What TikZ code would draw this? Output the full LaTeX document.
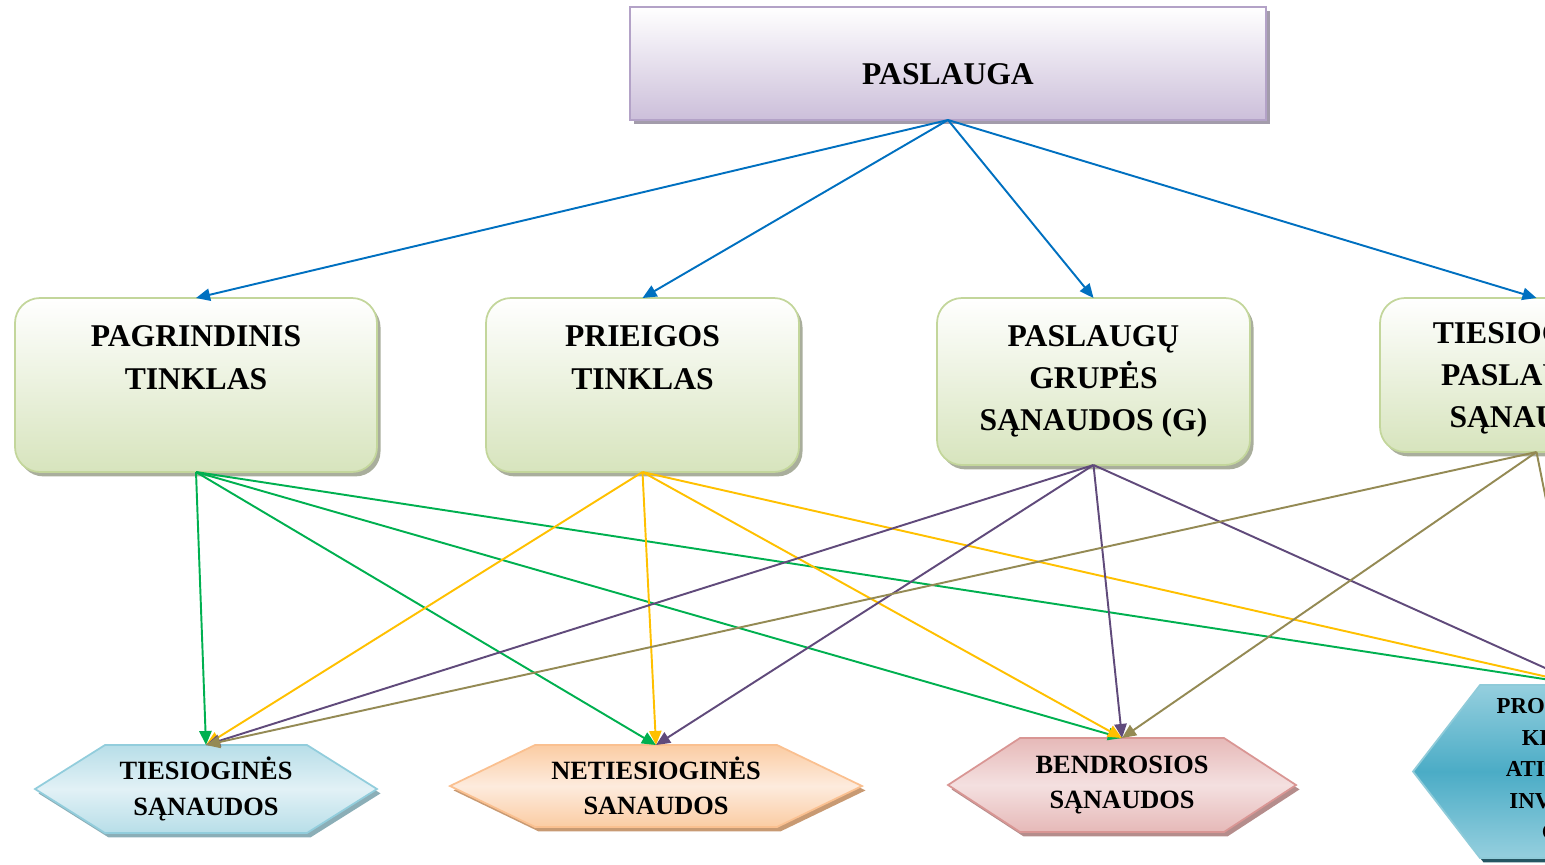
\documentclass[tikz,border=0pt]{standalone}
\usepackage{fontspec}
\setmainfont{Liberation Serif}
\usetikzlibrary{arrows.meta,shadows,backgrounds}

\definecolor{pasline}{HTML}{B3A2C7}
\definecolor{pasfill}{HTML}{CCBFDA}
\definecolor{passhadow}{HTML}{A39CAB}
\definecolor{grnline}{HTML}{C3D69B}
\definecolor{grnfill}{HTML}{D7E4BD}
\definecolor{grnshadow}{HTML}{A9AE9C}
\definecolor{tieline}{HTML}{92CDDC}
\definecolor{tiefill}{HTML}{B7DEE8}
\definecolor{tielight}{HTML}{E2F1F6}
\definecolor{netline}{HTML}{FAC090}
\definecolor{netfill}{HTML}{FBCCA3}
\definecolor{netlight}{HTML}{FDEBDD}
\definecolor{benline}{HTML}{D99694}
\definecolor{benfill}{HTML}{E6B9B8}
\definecolor{benlight}{HTML}{F4E0E0}
\definecolor{prkline}{HTML}{8FCBD9}
\definecolor{prkfill}{HTML}{95CFDE}
\definecolor{prkdark}{HTML}{4BACC6}
\definecolor{melyna}{HTML}{0070C0}
\definecolor{zalia}{HTML}{00B050}
\definecolor{geltona}{HTML}{FFC000}
\definecolor{violetine}{HTML}{604A7B}
\definecolor{alyvine}{HTML}{948A54}

% šešiakampio kontūras pagal mazgo kraštus
\newcommand\hexpath[2]{(#1.west) -- ([xshift=#2]#1.north west) -- ([xshift=-#2]#1.north east) -- (#1.east) -- ([xshift=-#2]#1.south east) -- ([xshift=#2]#1.south west) -- cycle}

\tikzset{
  boxfont/.style={font=\fontsize{18}{24}\selectfont\bfseries},
  topbox/.style={draw=pasline, line width=1pt, top color=white, bottom color=pasfill,
    drop shadow={shadow xshift=2.5pt, shadow yshift=-2.5pt, fill=passhadow, opacity=1},
    boxfont, inner sep=0pt, outer sep=0pt},
  tinklas/.style={draw=grnline, line width=1pt, rounded corners=0.5cm, top color=white, bottom color=grnfill,
    drop shadow={shadow xshift=2pt, shadow yshift=-2.5pt, fill=grnshadow, opacity=1},
    boxfont, align=center, inner sep=0pt, outer sep=0pt},
  hexlbl/.style={font=\fontsize{15}{20}\selectfont\bfseries, align=center, inner sep=0pt, outer sep=0pt},
  hexfill/.style n args={4}{draw=#1, line width=1pt, top color=#2, bottom color=#2, middle color=#3,
    drop shadow={shadow xshift=2pt, shadow yshift=-2.5pt, fill=#4, opacity=1}},
  rodykle/.style={draw=#1, line width=1.1pt, -{Triangle[length=8pt,width=7pt]}},
}

\begin{document}
\begin{tikzpicture}
  \useasboundingbox (0,0) rectangle (30.9,-17.28);
  \clip (0,0) rectangle (30.9,-17.28);

  % viršutinis blokas
  \node[topbox, minimum width=12.72cm, minimum height=2.26cm, text height=0.84cm, text depth=0pt]
    (pas) at (18.96,-1.27) {PASLAUGA};

  % antras lygis
  \node[tinklas, minimum width=7.24cm, minimum height=3.48cm] (pag) at (3.92,-7.7) {PAGRINDINIS\\TINKLAS\\\strut};
  \node[tinklas, minimum width=6.26cm, minimum height=3.48cm] (pri) at (12.85,-7.7) {PRIEIGOS\\TINKLAS\\\strut};
  \node[tinklas, minimum width=6.26cm, minimum height=3.34cm] (grp) at (21.87,-7.63) {PASLAUGŲ\\GRUPĖS\\SĄNAUDOS (G)};
  \node[tinklas, minimum width=6.26cm, minimum height=3.08cm] (tsp) at (30.73,-7.5) {TIESIOGINĖS\\PASLAUGOS\\SĄNAUDOS};

  % sąnaudų šešiakampiai
  \node[hexlbl, minimum width=6.84cm, minimum height=1.76cm] (tie) at (4.12,-15.78) {TIESIOGINĖS\\SĄNAUDOS};
  \node[hexlbl, minimum width=8.24cm, minimum height=1.64cm] (net) at (13.12,-15.72) {NETIESIOGINĖS\\SANAUDOS};
  \node[hexlbl, minimum width=6.96cm, minimum height=1.88cm] (ben) at (22.44,-15.7) {BENDROSIOS\\SĄNAUDOS};
  \node[hexlbl, font=\fontsize{13}{18}\selectfont\bfseries, minimum width=6.8cm, minimum height=3.46cm]
    (prk) at (31.66,-15.43) {PROPORCINGA\\KRYPTIMS\\ATITINKANTI\\INVESTICIJŲ\\GRĄŽA};

  \begin{scope}[on background layer]
    \clip (0,0) rectangle (30.9,-17.28);
    \path[hexfill={tieline}{tiefill}{tielight}{tieline!60!gray}] \hexpath{tie}{1.4cm};
    \path[hexfill={netline}{netfill}{netlight}{netline!80!black}] \hexpath{net}{1.7cm};
    \path[hexfill={benline}{benfill}{benlight}{benline!60!gray}] \hexpath{ben}{1.44cm};
    \path[hexfill={prkline}{prkfill}{prkdark}{prkdark!50!black}] \hexpath{prk}{1.34cm};
  \end{scope}

  % rodyklės
  \foreach \t in {pag,pri,grp,tsp}
    \draw[rodykle=melyna] (pas.south) -- (\t.north);

  \foreach \t in {tie,net,ben,prk}
    \draw[rodykle=zalia] (pag.south) -- (\t.north);

  \foreach \t in {tie,net,ben,prk}
    \draw[rodykle=geltona] (pri.south) -- (\t.north);

  \foreach \t in {tie,net,ben,prk}
    \draw[rodykle=violetine] (grp.south) -- (\t.north);

  \foreach \t in {tie,ben,prk}
    \draw[rodykle=alyvine] (tsp.south) -- (\t.north);
\end{tikzpicture}
\end{document}
